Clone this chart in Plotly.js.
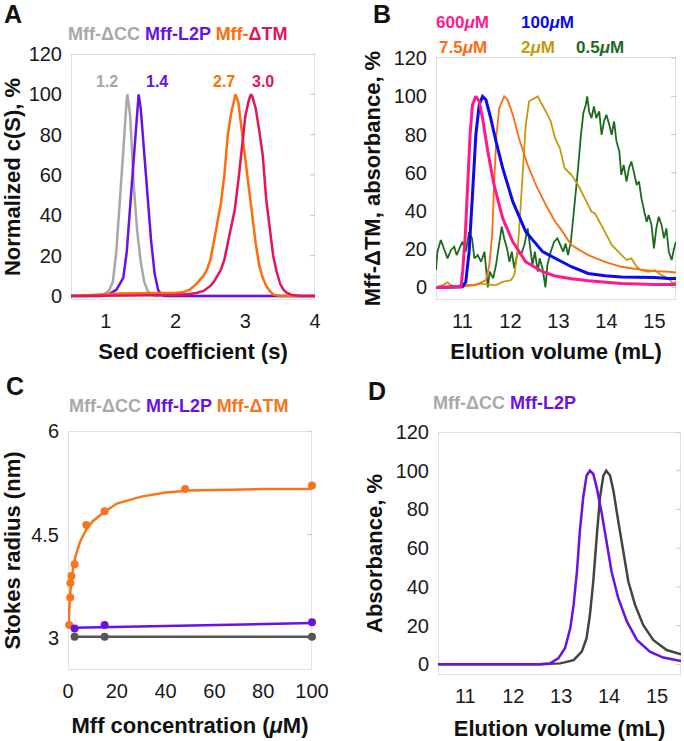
<!DOCTYPE html>
<html>
<head>
<meta charset="utf-8">
<script src="https://cdn.plot.ly/plotly-3.0.1.min.js"></script>
<style>html,body{margin:0;padding:0;background:#fff;}#chart{width:684px;height:741px;}</style>
</head>
<body>
<div id="chart"></div>
<script>
// ---------- Panel A: sedimentation c(S) ----------
const sedCC_x  = [0.5, 0.9, 0.95, 1.0, 1.05, 1.1, 1.15, 1.2, 1.25, 1.3, 1.31, 1.35, 1.4, 1.45, 1.5, 1.55, 1.6, 1.65, 1.7, 4.0];
const sedCC_y  = [0, 0, 0.5, 1.5, 3, 7, 22, 45, 72, 98, 100, 89, 55, 32, 17, 7, 2.5, 0.8, 0, 0];
const sedL2P_x = [0.5, 0.95, 1.0, 1.05, 1.1, 1.15, 1.2, 1.25, 1.3, 1.35, 1.4, 1.45, 1.47, 1.5, 1.55, 1.6, 1.65, 1.7, 1.75, 1.8, 1.85, 4.0];
const sedL2P_y = [0, 0, 0.5, 1, 2, 3, 6, 9, 22, 45, 72, 95, 100, 93, 72, 48, 27, 11, 3, 0.5, 0, 0];
const sedTMa_x = [0.5, 0.8, 1.0, 1.2, 1.5, 1.8, 2.0, 2.1, 2.2, 2.3, 2.35, 2.4, 2.45, 2.5, 2.55, 2.6, 2.65, 2.7, 2.75, 2.8, 2.86, 2.9, 2.95, 3.0, 3.05, 3.1, 3.15, 3.2, 3.25, 3.3, 3.35, 3.4, 3.45, 3.5, 4.0];
const sedTMa_y = [0, 0.3, 0.8, 1.2, 1.5, 1.5, 1.5, 1.8, 3, 6, 8, 10, 13, 18, 27, 37, 46, 60, 80, 91, 100, 96, 82, 68, 53, 39, 26, 15, 9, 5, 2.5, 0.8, 0.3, 0, 0];
const sedTMb_x = [0.5, 2.0, 2.2, 2.3, 2.4, 2.5, 2.55, 2.6, 2.65, 2.7, 2.75, 2.8, 2.85, 2.9, 2.95, 3.0, 3.05, 3.08, 3.1, 3.15, 3.2, 3.25, 3.3, 3.35, 3.4, 3.45, 3.5, 3.55, 3.6, 3.65, 3.7, 3.8, 4.0];
const sedTMb_y = [0, 0.5, 1, 1.5, 2.5, 5, 7, 10, 13, 18, 26, 34, 43, 57, 72, 89, 97, 100, 99, 93, 82, 70, 48, 35, 20, 12, 6, 3, 1.5, 0.8, 0.3, 0, 0];
const peakLabels = ['1.2', '1.4', '2.7', '3.0'];

// ---------- Panel B: Mff-ΔTM SEC at various concentrations ----------
const b600_x = [10.45, 10.97, 11.005, 11.06, 11.11, 11.16, 11.21, 11.28, 11.35, 11.42, 11.53, 11.66, 11.84, 12.05, 12.32, 12.67, 12.93, 13.27, 13.62, 14.31, 15.01, 15.45];
const b600_y = [0, 0.3, 8.2, 27.4, 53.6, 79.9, 95.6, 100, 97.4, 88.6, 71.1, 53.6, 36.1, 23.9, 13.4, 8.2, 6.0, 4.5, 3.5, 2.0, 1.5, 1.5];
const b100_x = [10.45, 11.0, 11.07, 11.14, 11.21, 11.28, 11.35, 11.42, 11.49, 11.59, 11.70, 11.84, 12.05, 12.32, 12.67, 12.93, 13.27, 13.62, 13.97, 14.31, 14.66, 15.01, 15.29, 15.45];
const b100_y = [0, 0.3, 2.9, 18.7, 48.4, 79.9, 95.6, 100, 98.2, 88.6, 76.4, 62.4, 44.9, 29.1, 18.7, 15.2, 10.8, 7.3, 6.1, 5.5, 5.5, 5.2, 4.7, 4.7];
const b75_x = [10.45, 10.87, 11.28, 11.49, 11.56, 11.62, 11.66, 11.71, 11.77, 11.87, 11.94, 12.05, 12.18, 12.36, 12.53, 12.74, 12.93, 13.05, 13.27, 13.62, 13.97, 14.31, 14.66, 15.01, 15.29, 15.45];
const b75_y = [0, 0.3, 1.2, 3.8, 11.7, 27.4, 53.6, 79.9, 93.9, 100, 98.2, 90.4, 78.1, 64.1, 53.6, 43.1, 34.5, 30.5, 22.2, 16.9, 13.4, 10.8, 9.4, 8.5, 8.2, 7.8];
const b2_x = [10.45, 10.59, 10.69, 10.76, 10.87, 11.0, 11.21, 11.35, 11.56, 11.70, 11.84, 12.01, 12.08, 12.15, 12.22, 12.27, 12.32, 12.39, 12.50, 12.57, 12.64, 12.74, 12.84, 12.93, 13.03, 13.13, 13.27, 13.41, 13.55, 13.69, 13.76, 13.86, 13.97, 14.11, 14.21, 14.31, 14.42, 14.52, 14.63, 14.73, 14.87, 15.01, 15.15, 15.29, 15.39, 15.45];
const b2_y = [0, 1.2, 2.6, 1.2, 0.3, 1.5, 1.2, 2.0, 1.5, 1.2, 2.9, 3.8, 6.4, 18.7, 44.9, 62.4, 85.1, 97.4, 99.1, 100, 96.5, 92.1, 86.9, 78.1, 72.9, 62.4, 58.9, 53.6, 46.6, 39.6, 38.8, 34.4, 29.1, 22.2, 19.5, 16.9, 14.3, 15.2, 10.8, 9.0, 8.2, 9.0, 6.4, 4.7, 2.0, 2.9];
const b05_x = [10.45, 10.48, 10.55, 10.62, 10.69, 10.76, 10.83, 10.88, 10.94, 11.0, 11.07, 11.14, 11.2, 11.25, 11.32, 11.39, 11.46, 11.5, 11.53, 11.57, 11.64, 11.7, 11.77, 11.82, 11.87, 11.93, 11.98, 12.03, 12.08, 12.15, 12.22, 12.29, 12.36, 12.41, 12.46, 12.51, 12.57, 12.61, 12.67, 12.73, 12.77, 12.84, 12.91, 12.98, 13.04, 13.1, 13.15, 13.2, 13.26, 13.31, 13.36, 13.41, 13.47, 13.52, 13.57, 13.6, 13.64, 13.69, 13.74, 13.79, 13.85, 13.9, 13.95, 14.0, 14.06, 14.11, 14.16, 14.21, 14.27, 14.31, 14.36, 14.42, 14.47, 14.52, 14.57, 14.63, 14.68, 14.73, 14.79, 14.84, 14.88, 14.94, 14.99, 15.04, 15.09, 15.15, 15.2, 15.25, 15.3, 15.36, 15.41, 15.45];
const b05_y = [9.0, 18.7, 24.8, 20.4, 15.2, 19.5, 21.3, 16.9, 20.4, 23.9, 18.7, 29.1, 25.7, 15.2, 16.9, 13.4, 18.7, 6.4, 0, 8.2, 4.7, 11.7, 23.9, 31.8, 25.7, 20.4, 13.4, 18.7, 9.9, 18.7, 16.9, 22.2, 30.9, 22.2, 11.7, 18.7, 8.2, 15.2, 9.9, 0, 11.7, 18.7, 23.9, 25.7, 22.0, 18.7, 23.0, 16.9, 23.9, 36.1, 48.4, 62.4, 79.9, 91.2, 95.6, 100, 92.1, 88.6, 94.7, 88.6, 92.1, 79.9, 86.9, 90.4, 85.1, 79.9, 86.9, 76.4, 71.1, 58.9, 64.1, 55.4, 62.4, 65.9, 60.6, 53.6, 55.4, 46.6, 39.6, 34.4, 37.9, 32.6, 20.4, 30.9, 37.0, 32.6, 25.7, 30.9, 18.7, 14.3, 20.4, 23.9];
const bLabels = ['600', '100', '7.5', '2', '0.5'];

// ---------- Panel C: Stokes radius vs concentration ----------
const cTM_conc   = [0.5, 0.9, 1.0, 1.4, 2.7, 7.5, 15, 48, 100];
const cTM_rs     = [3.19, 3.59, 3.80, 3.90, 4.07, 4.64, 4.84, 5.16, 5.21];
const cTMfit_x   = [0.2, 0.3, 0.5, 1, 1.5, 2, 3, 5, 7.5, 10, 15, 20, 30, 40, 50, 60, 80, 100];
const cTMfit_y   = [3.15, 3.27, 3.41, 3.70, 3.88, 3.99, 4.18, 4.40, 4.57, 4.69, 4.83, 4.95, 5.05, 5.11, 5.14, 5.15, 5.16, 5.16];
const cL2P_conc  = [2.7, 15, 100];
const cL2P_rs    = [3.14, 3.19, 3.23];
const cL2Pfit_x  = [2.7, 100];
const cL2Pfit_y  = [3.15, 3.22];
const cCC_conc   = [2.7, 15, 100];
const cCC_rs     = [3.02, 3.02, 3.02];

// ---------- Panel D: SEC of Mff-ΔCC and Mff-L2P ----------
const dL2P_x = [10.43, 12.56, 12.77, 12.94, 13.08, 13.19, 13.26, 13.33, 13.39, 13.46, 13.53, 13.6, 13.67, 13.74, 13.85, 13.95, 14.05, 14.19, 14.37, 14.58, 14.85, 15.13, 15.5];
const dL2P_y = [0, 0, 0.5, 3.1, 8.3, 18.7, 30.8, 48.1, 68.9, 86.2, 97.5, 100, 98.3, 91.4, 77.5, 62.0, 48.1, 34.3, 22.2, 12.6, 6.6, 3.5, 1.7];
const dCC_x  = [10.43, 12.56, 12.98, 13.26, 13.43, 13.53, 13.6, 13.67, 13.74, 13.81, 13.88, 13.94, 14.02, 14.09, 14.19, 14.3, 14.4, 14.54, 14.71, 14.92, 15.2, 15.5];
const dCC_y  = [0, 0, 0.5, 2.2, 6.6, 13.5, 25.6, 42.9, 65.4, 86.2, 97.5, 100, 97.5, 89.7, 74.1, 56.8, 42.9, 30.8, 20.4, 12.6, 7.4, 5.2];

// ---------- colours / styles ----------
const C = {
  gray: '#a8a8a8', purple: '#6a12e4', orange: '#ff6d0a', crimson: '#e3145a',
  pink: '#ff1a8c', blue: '#0a0aee', bOrange: '#ff6a12', gold: '#c49a0a', green: '#1d6a1d',
  cOrange: '#f5761c', dark: '#555555', dDark: '#444444'
};
const FONT = 'Liberation Sans, Arial, Helvetica, sans-serif';
const FRAME = '#c4c4c4';

const pctTicks = [0, 20, 40, 60, 80, 100, 120];
const cTicks = [3, 4.5, 6];
const aXRange = [0.5, 4], bXRange = [10.45, 15.45], cXRange = [0, 100], dXRange = [10.43, 15.5];
const aRange = [-2, 120], bRange = [-6.6, 120.6], cRange = [2.54, 6], dRange = [-5.5, 120];

function line(x, y, color, width, xa, ya, name) {
  return {type: 'scatter', mode: 'lines', x: x, y: y, xaxis: xa, yaxis: ya, name: name,
          line: {color: color, width: width, shape: 'linear'}, showlegend: false, hoverinfo: 'skip', cliponaxis: true};
}
function pts(x, y, color, xa, ya, name) {
  return {type: 'scatter', mode: 'markers', x: x, y: y, xaxis: xa, yaxis: ya, name: name,
          marker: {color: color, size: 8}, showlegend: false, hoverinfo: 'skip', cliponaxis: false};
}
// plot frame (box around the axes) with short inward tick marks on the right edge
function frame(xr, yr, ticks, xa, ya) {
  const fx = [xr[0], xr[1], xr[1], xr[0], xr[0], null];
  const fy = [yr[0], yr[0], yr[1], yr[1], yr[0], null];
  const tl = (xr[1] - xr[0]) * 0.02;
  ticks.forEach(function (v) { fx.push(xr[1] - tl, xr[1], null); fy.push(v, v, null); });
  return {type: 'scatter', mode: 'lines', x: fx, y: fy, xaxis: xa, yaxis: ya, connectgaps: false,
          line: {color: FRAME, width: 1}, showlegend: false, hoverinfo: 'skip', cliponaxis: false};
}

const traces = [
  frame(aXRange, aRange, pctTicks, 'x', 'y'),
  frame(bXRange, bRange, pctTicks, 'x2', 'y2'),
  frame(cXRange, cRange, cTicks, 'x3', 'y3'),
  frame(dXRange, dRange, pctTicks, 'x4', 'y4'),

  line(sedCC_x, sedCC_y, C.gray, 2.5, 'x', 'y', 'Mff-ΔCC'),
  line(sedL2P_x, sedL2P_y, C.purple, 2.5, 'x', 'y', 'Mff-L2P'),
  line(sedTMa_x, sedTMa_y, C.orange, 2.5, 'x', 'y', 'Mff-ΔTM'),
  line(sedTMb_x, sedTMb_y, C.crimson, 2.5, 'x', 'y', 'Mff-ΔTM'),

  line(b05_x, b05_y, C.green, 1.8, 'x2', 'y2', '0.5μM'),
  line(b2_x, b2_y, C.gold, 1.8, 'x2', 'y2', '2μM'),
  line(b75_x, b75_y, C.bOrange, 1.8, 'x2', 'y2', '7.5μM'),
  line(b100_x, b100_y, C.blue, 3, 'x2', 'y2', '100μM'),
  line(b600_x, b600_y, C.pink, 3, 'x2', 'y2', '600μM'),

  line(cTMfit_x, cTMfit_y, C.cOrange, 2.5, 'x3', 'y3', 'Mff-ΔTM fit'),
  pts(cTM_conc, cTM_rs, C.cOrange, 'x3', 'y3', 'Mff-ΔTM'),
  line(cL2Pfit_x, cL2Pfit_y, C.purple, 2.5, 'x3', 'y3', 'Mff-L2P fit'),
  pts(cL2P_conc, cL2P_rs, C.purple, 'x3', 'y3', 'Mff-L2P'),
  line(cCC_conc, cCC_rs, C.dark, 2.5, 'x3', 'y3', 'Mff-ΔCC fit'),
  pts(cCC_conc, cCC_rs, C.dark, 'x3', 'y3', 'Mff-ΔCC'),

  line(dCC_x, dCC_y, C.dDark, 2.5, 'x4', 'y4', 'Mff-ΔCC'),
  line(dL2P_x, dL2P_y, C.purple, 2.5, 'x4', 'y4', 'Mff-L2P')
];

const W = 684, H = 741;
function domX(a, b) { return [a / W, b / W]; }
function domY(top, bottom) { return [1 - bottom / H, 1 - top / H]; }

function xax(domain, anchor, range, tickvals, title, standoff) {
  return {domain: domain, anchor: anchor, range: range, tickmode: 'array', tickvals: tickvals,
          showgrid: false, zeroline: false, showline: false,
          ticks: 'outside', ticklen: 3, tickcolor: 'rgba(0,0,0,0)',
          tickfont: {family: FONT, size: 20, color: '#1a1a1a'},
          title: {text: '<b>' + title + '</b>', font: {family: FONT, size: 22, color: '#111'}, standoff: standoff}};
}
function yax(domain, anchor, range, tickvals, title, standoff) {
  return {domain: domain, anchor: anchor, range: range, tickmode: 'array', tickvals: tickvals,
          showgrid: false, zeroline: false, showline: false,
          ticks: 'outside', ticklen: 4, tickcolor: 'rgba(0,0,0,0)',
          tickfont: {family: FONT, size: 20, color: '#1a1a1a'},
          title: {text: '<b>' + title + '</b>', font: {family: FONT, size: 22, color: '#111'}, standoff: standoff}};
}

const layout = {
  width: W, height: H, margin: {l: 0, r: 0, t: 0, b: 0},
  paper_bgcolor: '#fff', plot_bgcolor: '#fff', showlegend: false,
  font: {family: FONT, color: '#111'},
  xaxis:  xax(domX(71, 315), 'y', aXRange, [1, 2, 3, 4], 'Sed coefficient (s)', 12),
  yaxis:  yax(domY(54, 300), 'x', aRange, pctTicks, 'Normalized c(S), %', 6),
  xaxis2: xax(domX(436, 676), 'y2', bXRange, [11, 12, 13, 14, 15], 'Elution volume (mL)', 12),
  yaxis2: yax(domY(57, 300), 'x2', bRange, pctTicks, 'Mff-ΔTM, absorbance, %', 6),
  xaxis3: xax(domX(68, 312), 'y3', cXRange, [0, 20, 40, 60, 80, 100], 'Mff concentration (<i>μ</i>M)', 16),
  yaxis3: yax(domY(431, 670), 'x3', cRange, cTicks, 'Stokes radius (nm)', 8),
  xaxis4: xax(domX(438, 681), 'y4', dXRange, [11, 12, 13, 14, 15], 'Elution volume (mL)', 16),
  yaxis4: yax(domY(432, 675), 'x4', dRange, pctTicks, 'Absorbance, %', 6),
  annotations: []
};

function ann(text, px, py, size, extra) {
  return Object.assign({xref: 'paper', yref: 'paper', x: px / W, y: 1 - py / H, xanchor: 'center', yanchor: 'middle',
    showarrow: false, text: text, font: {family: FONT, size: size, color: '#111'}}, extra || {});
}
function span(color, t) { return '<span style="color:' + color + '">' + t + '</span>'; }

// panel letters
layout.annotations.push(ann('<b>A</b>', 13, 14, 25));
layout.annotations.push(ann('<b>B</b>', 382, 14, 25));
layout.annotations.push(ann('<b>C</b>', 15, 386, 25));
layout.annotations.push(ann('<b>D</b>', 377, 391, 25));

// legends written as coloured titles
layout.annotations.push(ann('<b>' + span(C.gray, 'Mff-ΔCC') + ' ' + span(C.purple, 'Mff-L2P') + ' ' +
  span(C.orange, 'Mff-') + span(C.crimson, 'ΔTM') + '</b>', 178, 34, 18));
layout.annotations.push(ann('<b>' + span(C.gray, 'Mff-ΔCC') + ' ' + span(C.purple, 'Mff-L2P') + ' ' +
  span(C.cOrange, 'Mff-ΔTM') + '</b>', 179, 406, 18));
layout.annotations.push(ann('<b>' + span(C.gray, 'Mff-ΔCC') + ' ' + span(C.purple, 'Mff-L2P') + '</b>', 504, 403, 18));

// panel B concentration labels
const bCols = [C.pink, C.blue, C.bOrange, C.gold, C.green];
const bPos = [[434, 23], [519, 23], [437, 47], [519, 47], [574, 47]];
bLabels.forEach(function (t, i) {
  layout.annotations.push(ann('<b>' + span(bCols[i], t + '<i>μ</i>M') + '</b>', bPos[i][0], bPos[i][1], 17, {xanchor: 'left'}));
});

// panel A peak labels
const peakX = [1.02, 1.73, 2.69, 3.26];
const peakCols = [C.gray, C.purple, C.orange, C.crimson];
peakLabels.forEach(function (t, i) {
  layout.annotations.push({xref: 'x', yref: 'y', x: peakX[i], y: 106.5, showarrow: false,
    text: '<b>' + t + '</b>', font: {family: FONT, size: 16, color: peakCols[i]}, xanchor: 'center', yanchor: 'middle'});
});

Plotly.newPlot('chart', traces, layout, {staticPlot: true, displayModeBar: false});
</script>
</body>
</html>
